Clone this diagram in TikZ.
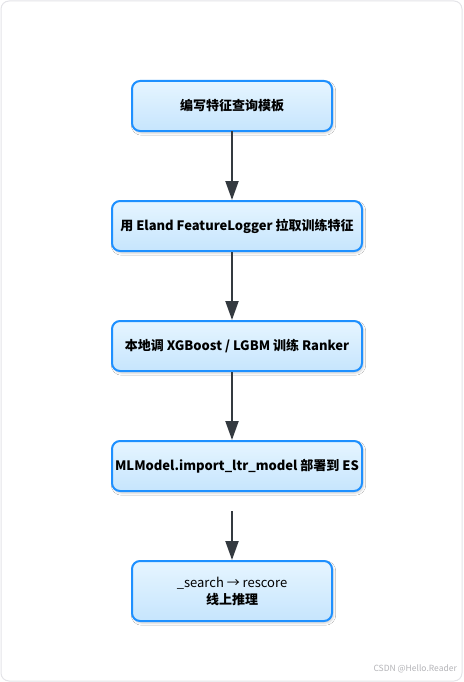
\documentclass[tikz,border=0pt]{standalone}
\usepackage{fontspec}
\setmainfont{Noto Sans CJK SC}
\usetikzlibrary{arrows.meta,shadows.blur}
\definecolor{boxborder}{HTML}{1E90FF}
\definecolor{boxtop}{HTML}{E6F5FF}
\definecolor{boxbot}{HTML}{C6E5FD}
\definecolor{arrowcol}{HTML}{343A40}
\definecolor{framecol}{HTML}{E4E4E8}
\definecolor{markcol}{HTML}{B4B4B8}
\tikzset{
  flowbox/.style={draw=boxborder, line width=2pt, rounded corners=8pt,
    top color=boxtop, bottom color=boxbot, align=center,
    font=\fontsize{13pt}{17pt}\selectfont\bfseries, inner sep=0pt,
    blur shadow={shadow xshift=1.5pt, shadow yshift=-2pt, shadow blur steps=6, shadow opacity=18}},
  flowarrow/.style={draw=arrowcol, line width=2pt, -{Triangle[length=19pt,width=13pt]}}
}
\begin{document}
\begin{tikzpicture}[x=1pt,y=-1pt]
\useasboundingbox (0,0) rectangle (463,682);
\draw[framecol, fill=white, line width=1pt, rounded corners=8pt] (1,1) rectangle (462,681);
\node[flowbox, minimum width=200pt, minimum height=50pt] (n1) at (232,106) {编写特征查询模板};
\node[flowbox, minimum width=250pt, minimum height=50pt] (n2) at (237,226) {用 Eland FeatureLogger 拉取训练特征};
\node[flowbox, minimum width=250pt, minimum height=50pt] (n3) at (237,346) {本地调 XGBoost / LGBM 训练 Ranker};
\node[flowbox, minimum width=250pt, minimum height=50pt] (n4) at (237,466) {MLModel.import\_ltr\_model 部署到 ES};
\node[flowbox, minimum width=200pt, minimum height=60pt] (n5) at (232,591) {{\mdseries \_search → rescore}\\线上推理};
\coordinate (s5) at (232,511);
\draw[flowarrow] (232,131) -- (n2.north -| 232,0);
\draw[flowarrow] (n2.south -| 232,0) -- (n3.north -| 232,0);
\draw[flowarrow] (n3.south -| 232,0) -- (n4.north -| 232,0);
\draw[flowarrow] (s5) -- (n5.north);
\node[anchor=east, text=markcol, font=\fontsize{8.5pt}{10pt}\selectfont, inner sep=0pt] (wm) at (457,669) {CSDN @Hello.Reader};
\end{tikzpicture}
\end{document}
